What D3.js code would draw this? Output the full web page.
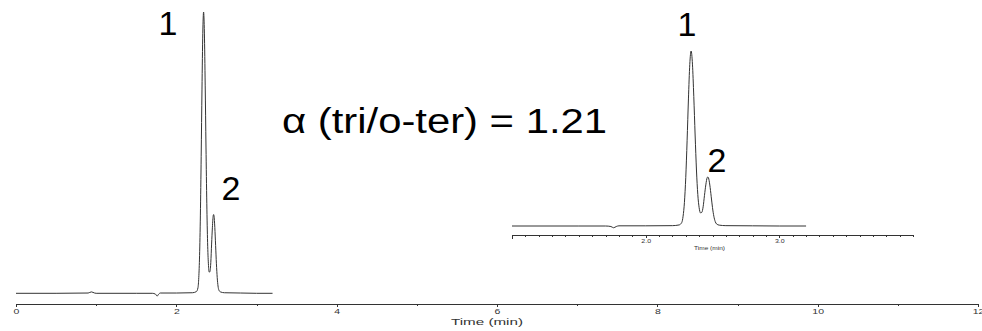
<!DOCTYPE html>
<html>
<head>
<meta charset="utf-8">
<script src="https://cdn.jsdelivr.net/npm/d3@7"></script>
<style>
  body { margin: 0; background: #fff; }
  svg { display: block; font-family: "Liberation Sans", Arial, sans-serif; }
  .trace { fill: none; stroke: #333; stroke-width: 1; }
  .axis path, .axis line { stroke: #333; shape-rendering: crispEdges; }
  .axis text { fill: #333; }
</style>
</head>
<body>
<div id="chart"></div>
<script>
// chromatogram, time (min) vs detector signal (relative, peak 1 = 100)
const times = [0.00, 0.50, 0.90, 0.94, 0.98, 1.00, 1.50, 1.70, 1.74, 1.76, 1.78, 1.80, 2.00, 2.20, 2.25,
  2.27, 2.28, 2.29, 2.30, 2.31, 2.32, 2.33, 2.34, 2.35, 2.36, 2.37, 2.38, 2.39, 2.40, 2.41,
  2.42, 2.43, 2.44, 2.45, 2.46, 2.465, 2.47, 2.48, 2.49, 2.50, 2.51, 2.52, 2.53, 2.55, 2.60,
  2.80, 3.00, 3.20];
const signal = [0.0, 0.0, 0.1, 0.5, 0.1, 0.0, 0.0, 0.0, -0.3, -1.0, -0.3, 0.1, 0.1, 0.2, 0.6,
  2.0, 5.6, 13.5, 27.8, 48.7, 72.6, 92.3, 100, 92.5, 74, 52, 32, 18, 10.5, 7.5,
  7.8, 11.0, 17.5, 23.5, 27.6, 28, 27.5, 23.4, 17.0, 10.5, 5.6, 2.6, 1.2, 0.5, 0.2,
  0.1, 0.0, 0.0];

const mainTicks = [0, 2, 4, 6, 8, 10, 12];
const mainMinor = [1, 3, 5, 7, 9, 11];
const insetTicks = [2.0, 3.0];
const insetStart = 1.0; // inset trace starts here

const peakLabels = ['1', '2'];
const alphaText = 'α (tri/o-ter) = 1.21';

const width = 982, height = 331;
const data = times.map((t, i) => ({ t: t, s: signal[i] }));

const svg = d3.select('#chart').append('svg')
    .attr('width', width)
    .attr('height', height);

// ---- main chromatogram ----
const x = d3.scaleLinear().domain([0, 12]).range([16, 978]);
const y = d3.scaleLinear().domain([0, 100]).range([293.3, 12]);
const axisY = 303.5;

const line = d3.line()
    .x(d => x(d.t))
    .y(d => y(d.s))
    .curve(d3.curveMonotoneX);

svg.append('path')
    .datum(data)
    .attr('class', 'trace')
    .attr('d', line);

const gAxis = svg.append('g')
    .attr('class', 'axis')
    .attr('transform', `translate(0,${axisY})`)
    .call(d3.axisBottom(x).tickValues(mainTicks).tickSize(3).tickSizeOuter(0).tickPadding(3));
// tick labels in the original are squashed wide
gAxis.selectAll('.tick text')
    .attr('font-size', 7)
    .attr('transform', 'scale(1.5,1)');

svg.append('g')
    .attr('class', 'axis')
    .attr('transform', `translate(0,${axisY})`)
    .call(d3.axisBottom(x).tickValues(mainMinor).tickSize(2).tickFormat(''))
    .select('.domain').remove();

svg.append('text')
    .attr('x', 451)
    .attr('y', 325)
    .attr('font-size', 9)
    .attr('fill', '#333')
    .attr('textLength', 72)
    .attr('lengthAdjust', 'spacingAndGlyphs')
    .text('Time (min)');

// ---- inset (expanded view) ----
const xi = d3.scaleLinear().domain([1, 4]).range([512, 913]);
const yi = d3.scaleLinear().domain([0, 100]).range([226, 51]);
const insetAxisY = 234.5;

const lineInset = d3.line()
    .x(d => xi(d.t))
    .y(d => yi(d.s))
    .curve(d3.curveMonotoneX);

svg.append('path')
    .datum(data.filter(d => d.t >= insetStart))
    .attr('class', 'trace')
    .attr('d', lineInset);

const minorInset = d3.range(10, 41).map(v => v / 10);

svg.append('g')
    .attr('class', 'axis')
    .attr('transform', `translate(0,${insetAxisY})`)
    .call(d3.axisBottom(xi).tickValues(minorInset).tickSize(2).tickSizeOuter(0).tickFormat(''));

const gInset = svg.append('g')
    .attr('class', 'axis')
    .attr('transform', `translate(0,${insetAxisY})`)
    .call(d3.axisBottom(xi).tickValues(insetTicks).tickSize(3).tickPadding(2).tickFormat(d3.format('.1f')));
gInset.select('.domain').remove();
gInset.selectAll('.tick text')
    .attr('font-size', 5)
    .attr('transform', 'scale(1.4,1)');

svg.append('g')
    .attr('class', 'axis')
    .attr('transform', `translate(0,${insetAxisY})`)
    .call(d3.axisBottom(xi).tickValues([1.0]).tickSize(4).tickFormat(''))
    .select('.domain').remove();

svg.append('text')
    .attr('x', 694)
    .attr('y', 250)
    .attr('font-size', 5)
    .attr('fill', '#333')
    .attr('textLength', 31)
    .attr('lengthAdjust', 'spacingAndGlyphs')
    .text('Time (min)');

// ---- peak labels ----
const labelFont = 34;
[
  { txt: peakLabels[0], px: 168, py: 35 },
  { txt: peakLabels[1], px: 231, py: 200 },
  { txt: peakLabels[0], px: 687, py: 36 },
  { txt: peakLabels[1], px: 717, py: 172 }
].forEach(l => {
    svg.append('text')
        .attr('x', l.px)
        .attr('y', l.py)
        .attr('text-anchor', 'middle')
        .attr('font-size', labelFont)
        .attr('fill', '#000')
        .text(l.txt);
});

svg.append('text')
    .attr('x', 282)
    .attr('y', 133)
    .attr('font-size', 35)
    .attr('fill', '#000')
    .attr('textLength', 325)
    .attr('lengthAdjust', 'spacingAndGlyphs')
    .text(alphaText);
</script>
</body>
</html>
